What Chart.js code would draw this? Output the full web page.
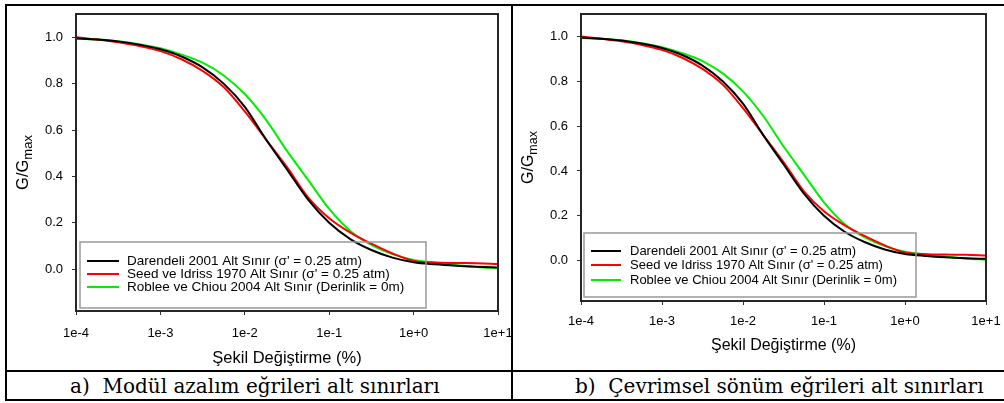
<!DOCTYPE html>
<html><head><meta charset="utf-8">
<script src="https://cdn.jsdelivr.net/npm/chart.js@4.4.1/dist/chart.umd.min.js"></script>
<style>
body{margin:0;width:1004px;height:403px;background:#fff;position:relative;overflow:hidden;font-family:"Liberation Sans",Arial,sans-serif}
.ln{position:absolute;background:#000}
canvas{position:absolute}
.cap{position:absolute;font-family:"DejaVu Serif",serif;font-size:20px;white-space:pre;line-height:22px;color:#000}
</style></head><body>
<div class="ln" style="left:5px;top:4px;width:999px;height:2px"></div>
<div class="ln" style="left:5px;top:370px;width:999px;height:2px"></div>
<div class="ln" style="left:5px;top:399px;width:999px;height:2px"></div>
<div class="ln" style="left:5px;top:4px;width:2px;height:397px"></div>
<div class="ln" style="left:511px;top:4px;width:2px;height:397px"></div>
<canvas id="c1" width="504" height="364" style="left:7px;top:6px"></canvas>
<canvas id="c2" width="489" height="364" style="left:513px;top:6px"></canvas>
<div class="cap" style="left:70px;top:375px">a)  Modül azalım eğrileri alt sınırları</div>
<div class="cap" style="left:575px;top:375px">b)  Çevrimsel sönüm eğrileri alt sınırları</div>
<script>
// ---- data ----
const strain = [1e-4, 1.778e-4, 3.162e-4, 5.623e-4, 1e-3, 1.778e-3, 3.162e-3, 5.623e-3, 1e-2, 1.778e-2, 3.162e-2, 5.623e-2, 1e-1, 1.778e-1, 3.162e-1, 5.623e-1, 1, 1.778, 3.162, 5.623, 10];
const darendeli = [0.995, 0.99, 0.982, 0.968, 0.948, 0.917, 0.87, 0.80, 0.70, 0.56, 0.43, 0.30, 0.20, 0.13, 0.083, 0.05, 0.03, 0.021, 0.015, 0.011, 0.008];
const seedIdriss = [1.0, 0.99, 0.978, 0.962, 0.94, 0.905, 0.855, 0.785, 0.68, 0.56, 0.44, 0.31, 0.22, 0.158, 0.11, 0.068, 0.036, 0.029, 0.027, 0.026, 0.023];
const robleeChiou = [0.993, 0.99, 0.983, 0.97, 0.952, 0.925, 0.89, 0.835, 0.755, 0.645, 0.51, 0.385, 0.26, 0.165, 0.105, 0.065, 0.04, 0.028, 0.018, 0.01, 0.004];
const seriesLabels = ["Darendeli 2001 Alt Sınır (σ' = 0.25 atm)", "Seed ve Idriss 1970 Alt Sınır (σ' = 0.25 atm)", "Roblee ve Chiou 2004 Alt Sınır (Derinlik = 0m)"];
const seriesColors = ['#000000', '#ff0000', '#00ee00'];
const xTickValues = [1e-4, 1e-3, 1e-2, 1e-1, 1, 10];
const xTickLabels = ['1e-4', '1e-3', '1e-2', '1e-1', '1e+0', '1e+1'];
const yTickValues = [0, 0.2, 0.4, 0.6, 0.8, 1.0];
const xTitle = 'Şekil Değiştirme (%)';
const yTitleMain = 'G/G', yTitleSub = 'max';

const FONT = '"Liberation Sans", Arial, sans-serif';

const panelPlugin = {
  id: 'panel',
  afterDatasetsDraw(chart, args, o) {
    const ctx = chart.ctx, a = chart.chartArea;
    ctx.save();
    ctx.strokeStyle = '#262626'; ctx.lineWidth = 2;
    ctx.strokeRect(a.left, a.top, a.right - a.left, a.bottom - a.top);
    // legend
    const L = o.legend;
    ctx.strokeStyle = '#999'; ctx.lineWidth = 1.5;
    ctx.strokeRect(L.x1, L.y1, L.x2 - L.x1, L.y2 - L.y1);
    ctx.font = L.size + 'px ' + FONT;
    ctx.textBaseline = 'middle'; ctx.textAlign = 'left';
    chart.data.datasets.forEach((ds, i) => {
      const y = L.rows[i];
      ctx.strokeStyle = ds.borderColor; ctx.lineWidth = 2;
      ctx.beginPath(); ctx.moveTo(L.lx1, y); ctx.lineTo(L.lx2, y); ctx.stroke();
      ctx.fillStyle = '#000';
      ctx.fillText(ds.label, L.tx, y + 0.5);
    });
    ctx.restore();
    // y title with subscript
    ctx.save();
    ctx.translate(o.yTitleX, (a.top + a.bottom) / 2);
    ctx.rotate(-Math.PI / 2);
    ctx.fillStyle = '#000'; ctx.textBaseline = 'middle'; ctx.textAlign = 'left';
    ctx.font = o.titleSize + 'px ' + FONT;
    const w1 = ctx.measureText(yTitleMain).width;
    ctx.font = o.subSize + 'px ' + FONT;
    const w2 = ctx.measureText(yTitleSub).width;
    const x0 = -(w1 + w2) / 2;
    ctx.font = o.titleSize + 'px ' + FONT;
    ctx.fillText(yTitleMain, x0, 0);
    ctx.font = o.subSize + 'px ' + FONT;
    ctx.fillText(yTitleSub, x0 + w1, o.subShift);
    ctx.restore();
  }
};

function makeChart(id, g) {
  const series = [darendeli, seedIdriss, robleeChiou];
  return new Chart(document.getElementById(id), {
    type: 'line',
    data: {
      datasets: series.map((s, i) => ({
        label: seriesLabels[i],
        data: strain.map((x, k) => ({x: x, y: s[k]})),
        borderColor: seriesColors[i],
        borderWidth: 2,
        pointRadius: 0,
        cubicInterpolationMode: 'monotone',
        fill: false
      }))
    },
    options: {
      responsive: false, animation: false, devicePixelRatio: 1,
      layout: {padding: {left: 0, top: g.top, right: g.right, bottom: 0}},
      plugins: {legend: {display: false}, tooltip: {enabled: false}, panel: g},
      scales: {
        x: {
          type: 'logarithmic', min: 1e-4, max: 10,
          afterBuildTicks: sc => { sc.ticks = xTickValues.map(v => ({value: v})); },
          afterFit: sc => { sc.height = g.xh; sc.paddingLeft = 0; sc.paddingRight = 0; },
          ticks: {autoSkip: false, maxRotation: 0, color: '#000', padding: g.xpad,
            font: {family: FONT, size: g.tick}, callback: (v, i) => xTickLabels[i]},
          grid: {drawOnChartArea: false, drawTicks: true, tickLength: 4, color: '#333'},
          border: {display: false},
          title: {display: true, text: xTitle, color: '#000', font: {family: FONT, size: g.titleSize},
            padding: {top: 0, bottom: g.xtpad}}
        },
        y: {
          min: -0.18, max: 1.1,
          afterBuildTicks: sc => { sc.ticks = yTickValues.map(v => ({value: v})); },
          afterFit: sc => { sc.width = g.yw; sc.paddingTop = 0; sc.paddingBottom = 0; },
          ticks: {color: '#000', padding: 9, font: {family: FONT, size: g.tick},
            callback: v => Number(v).toFixed(1)},
          grid: {drawOnChartArea: false, drawTicks: true, tickLength: 4, color: '#333'},
          border: {display: false}
        }
      }
    },
    plugins: [panelPlugin]
  });
}

makeChart('c1', {top: 8, right: 13, xh: 59, yw: 69, xpad: 11, xtpad: 1.5, tick: 13, titleSize: 16.5, subSize: 13, subShift: 5,
  yTitleX: 16,
  legend: {x1: 73, y1: 236, x2: 419, y2: 302, rows: [255, 268, 281], lx1: 80, lx2: 112, tx: 120, size: 13.5}});
makeChart('c2', {top: 8, right: 16, xh: 69, yw: 68, xpad: 9, xtpad: 14.6, tick: 13, titleSize: 16, subSize: 12.5, subShift: 5,
  yTitleX: 16,
  legend: {x1: 71, y1: 227, x2: 403, y2: 291, rows: [245, 259, 274], lx1: 78, lx2: 108, tx: 117, size: 13}});
</script>
</body></html>
